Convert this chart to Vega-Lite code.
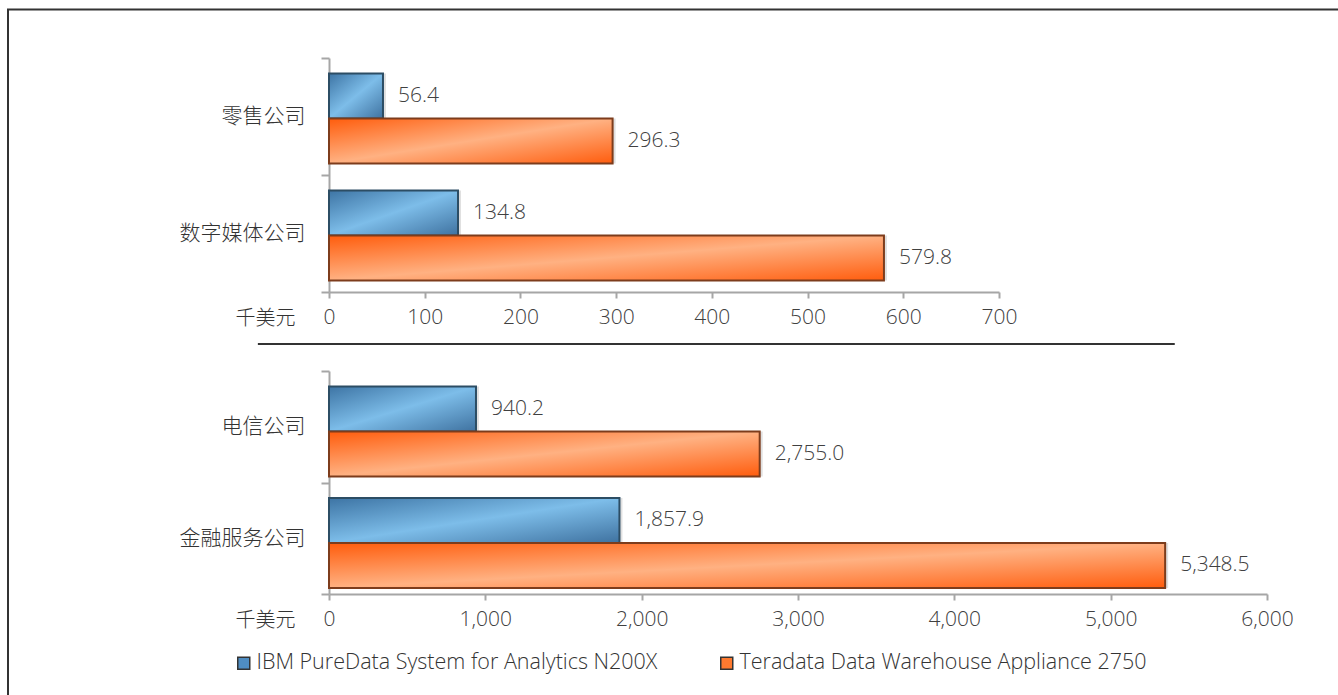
{
  "$schema": "https://vega.github.io/schema/vega-lite/v6.json",
  "background": "white",
  "padding": {"left": 7, "top": 8, "right": 0, "bottom": 0},
  "spacing": 13,
  "datasets": {
    "top": [
      {"category": "零售公司", "series": "IBM PureData System for Analytics N200X", "value": 56.4},
      {"category": "零售公司", "series": "Teradata Data Warehouse Appliance 2750", "value": 296.3},
      {"category": "数字媒体公司", "series": "IBM PureData System for Analytics N200X", "value": 134.8},
      {"category": "数字媒体公司", "series": "Teradata Data Warehouse Appliance 2750", "value": 579.8}
    ],
    "bottom": [
      {"category": "电信公司", "series": "IBM PureData System for Analytics N200X", "value": 940.2},
      {"category": "电信公司", "series": "Teradata Data Warehouse Appliance 2750", "value": 2755.0},
      {"category": "金融服务公司", "series": "IBM PureData System for Analytics N200X", "value": 1857.9},
      {"category": "金融服务公司", "series": "Teradata Data Warehouse Appliance 2750", "value": 5348.5}
    ]
  },
  "config": {
    "view": {"stroke": null},
    "axis": {
      "grid": false,
      "domainColor": "#a6a6a6",
      "domainWidth": 2,
      "tickColor": "#a6a6a6",
      "tickWidth": 2,
      "labelFont": "Open Sans",
      "labelFontWeight": 300,
      "labelFontSize": 21,
      "labelColor": "#404040"
    },
    "axisY": {
      "tickSize": 8,
      "tickBand": "extent",
      "labelPadding": 16,
      "labelFont": "Noto Sans CJK SC",
      "labelFontWeight": 300,
      "labelFontSize": 21,
      "labelColor": "#333333"
    },
    "axisX": {
      "tickSize": 6,
      "labelPadding": 8,
      "labelFlush": false
    },
    "legend": {
      "orient": "none",
      "legendX": -96,
      "legendY": 594,
      "direction": "horizontal",
      "title": null,
      "labelFont": "Open Sans",
      "labelFontWeight": 300,
      "labelFontSize": 21.5,
      "labelColor": "#333333",
      "labelLimit": 700,
      "symbolType": "square",
      "symbolSize": 144,
      "symbolStrokeColor": "#333333",
      "symbolStrokeWidth": 1.5,
      "symbolOpacity": 1,
      "labelOffset": 2,
      "columnPadding": 58,
      "strokeWidth": 2
    },
    "text": {"font": "Open Sans", "fontWeight": 300, "fontSize": 21, "color": "#404040"}
  },
  "vconcat": [
    {
      "width": 670,
      "height": 234,
      "data": {"name": "top"},
      "encoding": {
        "y": {"field": "category", "type": "nominal", "sort": ["零售公司", "数字媒体公司"], "scale": {"paddingInner": 0, "paddingOuter": 0}, "axis": {"title": null}},
        "yOffset": {"field": "series", "type": "nominal", "scale": {"paddingInner": 0, "paddingOuter": 0.3, "align": 0.57}},
        "x": {"field": "value", "type": "quantitative", "scale": {"domain": [0, 700]}, "axis": {"values": [0, 100, 200, 300, 400, 500, 600, 700], "format": "d", "title": "千美元", "titleFont": "Noto Sans CJK SC", "titleFontSize": 20, "titleFontWeight": 300, "titleColor": "#333333", "titleAlign": "right", "titleBaseline": "middle", "titleAnchor": "start", "titleX": -34, "titleY": 26}}
      },
      "layer": [
        {
          "mark": {"type": "bar", "color": "#000000", "opacity": 0.12, "xOffset": 3, "yOffset": 3}
        },
        {
          "mark": {"type": "bar"},
          "encoding": {
            "color": {"field": "series", "type": "nominal", "scale": {"range": ["#4f8dc2", "#ff7a30"]}}
          }
        },
        {
          "transform": [{"filter": "datum.series === 'IBM PureData System for Analytics N200X'"}],
          "mark": {"type": "bar", "strokeWidth": 2, "stroke": "#2c4d64",
            "fill": {"gradient": "linear", "x1": 0, "y1": 0, "x2": 1, "y2": 1, "stops": [{"offset": 0, "color": "#3d74a4"}, {"offset": 0.5, "color": "#7dbde9"}, {"offset": 1, "color": "#3f72a0"}]}}
        },
        {
          "transform": [{"filter": "datum.series === 'Teradata Data Warehouse Appliance 2750'"}],
          "mark": {"type": "bar", "strokeWidth": 2, "stroke": "#7d3c1c",
            "fill": {"gradient": "linear", "x1": 0, "y1": 0, "x2": 1, "y2": 1, "stops": [{"offset": 0, "color": "#ff5c0c"}, {"offset": 0.5, "color": "#ffb182"}, {"offset": 1, "color": "#ff5d0e"}]}}
        },
        {
          "mark": {"type": "text", "align": "left", "baseline": "middle", "dx": 15},
          "encoding": {"text": {"field": "value", "type": "quantitative", "format": ",.1f"}}
        }
      ]
    },
    {
      "width": 938,
      "height": 1,
      "data": {"values": [{}]},
      "layer": [
        {
          "mark": {"type": "rule", "color": "#333333", "strokeWidth": 2},
          "encoding": {
            "x": {"datum": -455, "type": "quantitative", "scale": {"domain": [0, 6000]}, "axis": null},
            "x2": {"datum": 5410},
            "y": {"value": 0}
          }
        },
        {
          "mark": {"type": "point", "opacity": 0},
          "encoding": {
            "x": {"datum": 0, "type": "quantitative"},
            "y": {"value": 0},
            "shape": {"datum": "frame", "legend": {"orient": "none", "legendX": -321, "legendY": -48.5, "padding": 356, "strokeColor": "#333333", "labelOffset": 672, "symbolSize": 1, "symbolOpacity": 0, "symbolStrokeWidth": 0, "labelFontSize": 1, "labelOpacity": 0, "labelExpr": "' '", "title": null}}
          }
        }
      ]
    },
    {
      "width": 938,
      "height": 223,
      "data": {"name": "bottom"},
      "encoding": {
        "y": {"field": "category", "type": "nominal", "sort": ["电信公司", "金融服务公司"], "scale": {"paddingInner": 0, "paddingOuter": 0}, "axis": {"title": null}},
        "yOffset": {"field": "series", "type": "nominal", "scale": {"paddingInner": 0, "paddingOuter": 0.3, "align": 0.57}},
        "x": {"field": "value", "type": "quantitative", "scale": {"domain": [0, 6000]}, "axis": {"values": [0, 1000, 2000, 3000, 4000, 5000, 6000], "format": ",d", "title": "千美元", "titleFont": "Noto Sans CJK SC", "titleFontSize": 20, "titleFontWeight": 300, "titleColor": "#333333", "titleAlign": "right", "titleBaseline": "middle", "titleAnchor": "start", "titleX": -34, "titleY": 26}}
      },
      "layer": [
        {
          "mark": {"type": "bar", "color": "#000000", "opacity": 0.12, "xOffset": 3, "yOffset": 3}
        },
        {
          "mark": {"type": "bar"},
          "encoding": {
            "color": {"field": "series", "type": "nominal"}
          }
        },
        {
          "transform": [{"filter": "datum.series === 'IBM PureData System for Analytics N200X'"}],
          "mark": {"type": "bar", "strokeWidth": 2, "stroke": "#2c4d64",
            "fill": {"gradient": "linear", "x1": 0, "y1": 0, "x2": 1, "y2": 1, "stops": [{"offset": 0, "color": "#3d74a4"}, {"offset": 0.5, "color": "#7dbde9"}, {"offset": 1, "color": "#3f72a0"}]}}
        },
        {
          "transform": [{"filter": "datum.series === 'Teradata Data Warehouse Appliance 2750'"}],
          "mark": {"type": "bar", "strokeWidth": 2, "stroke": "#7d3c1c",
            "fill": {"gradient": "linear", "x1": 0, "y1": 0, "x2": 1, "y2": 1, "stops": [{"offset": 0, "color": "#ff5c0c"}, {"offset": 0.5, "color": "#ffb182"}, {"offset": 1, "color": "#ff5d0e"}]}}
        },
        {
          "mark": {"type": "text", "align": "left", "baseline": "middle", "dx": 15},
          "encoding": {"text": {"field": "value", "type": "quantitative", "format": ",.1f"}}
        }
      ]
    }
  ]
}
